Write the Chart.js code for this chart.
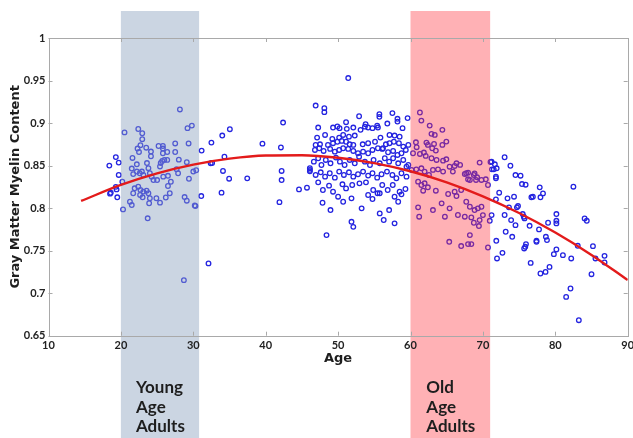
<!DOCTYPE html>
<html>
<head>
<meta charset="utf-8">
<script src="https://cdn.jsdelivr.net/npm/chart.js@4"></script>
<style>
  body { margin: 0; background: #fff; }
  #wrap { width: 633px; height: 438px; }
</style>
</head>
<body>
<div id="wrap"><canvas id="myelinChart" width="633" height="438"></canvas></div>
<script>
// subjects as [age, gray matter myelin content]
const youngGroup = [
  [28.15,0.916],[20.5,0.889],[22.4,0.893],[22.95,0.888],[22.95,0.881],[22.7,0.874],[22.3,0.870],[22.5,0.866],
  [24.15,0.8665],[24.15,0.861],[23.5,0.871],[25.2,0.873],[25.8,0.873],[25.8,0.870],[26.4,0.866],[25.8,0.8645],
  [27.5,0.876],[27.5,0.866],[29.2,0.894],[29.8,0.897],[29.35,0.876],[28.0,0.857],[29.1,0.854],[25.7,0.8555],
  [26.0,0.8567],[26.4,0.8567],[25.5,0.853],[25.4,0.849],[19.3,0.860],[19.7,0.8535],[18.4,0.850],[21.6,0.859],
  [21.5,0.8465],[21.7,0.840],[22.2,0.8515],[22.2,0.843],[22.6,0.841],[22.9,0.843],[23.1,0.839],[19.7,0.839],
  [20.2,0.831],[23.6,0.853],[23.8,0.847],[24.0,0.841],[24.25,0.837],[24.5,0.833],[25.0,0.833],[25.85,0.837],
  [26.5,0.838],[26.9,0.831],[26.5,0.826],[26.2,0.8125],[26.75,0.8175],[28.8,0.813],[29.1,0.8087],[30.2,0.803],
  [29.4,0.8345],[30.0,0.843],[30.4,0.8445],[27.9,0.841],[27.7,0.8457],[18.6,0.818],[19.3,0.825],[19.5,0.8127],
  [20.3,0.7985],[21.25,0.8075],[21.5,0.8036],[21.7,0.8175],[21.9,0.8233],[22.4,0.8252],[22.7,0.8214],[23.1,0.8194],
  [22.65,0.8155],[23.0,0.8127],[23.55,0.8205],[23.8,0.8175],[24.0,0.8116],[23.9,0.8057],[24.9,0.8116],[25.4,0.8064],
  [23.7,0.788],[28.7,0.7153],[18.5,0.817],[19.4,0.822]
];

const middleGroup = [
  [31.15,0.8676],[32.5,0.877],[32.4,0.8528],[32.6,0.853],[34.1,0.8437],[34.0,0.8853],[35.05,0.8928],[34.3,0.8605],
  [34.95,0.8346],[33.9,0.8182],[31.1,0.8142],[30.3,0.8025],[32.1,0.735],[37.45,0.835],[39.55,0.8758],[42.4,0.9006],
  [42.1,0.8713],[42.2,0.8437],[42.2,0.833],[41.9,0.807],[44.6,0.822],[45.7,0.824],[46.1,0.847],[46.1,0.8433]
];

const lateMidGroup = [
  [46.9,0.9206],[48.1,0.9175],[48.1,0.9128],[51.4,0.9529],[52.9,0.908],[55.7,0.9105],[55.7,0.9073],[57.5,0.9117],
  [58.2,0.905],[59.6,0.9058],[51.1,0.901],[53.8,0.8987],[55.4,0.897],[56.8,0.8994],[47.25,0.8947],[49.3,0.8947],
  [49.9,0.896],[50.2,0.894],[51.2,0.8932],[52.1,0.8947],[53.1,0.892],[53.7,0.8958],[54.15,0.8947],[54.75,0.894],
  [55.5,0.8947],[58.9,0.894],[58.2,0.9017],
  [47.1,0.8829],[48.2,0.886],[49.2,0.8813],[50.15,0.8829],[50.7,0.886],[51.5,0.884],[52.3,0.8853],[55.85,0.8829],
  [57.1,0.886],[57.8,0.8853],[58.5,0.884],
  [46.9,0.8743],[47.5,0.875],[48.6,0.8743],[49.3,0.8763],[49.9,0.878],[50.5,0.879],[51.1,0.878],[51.6,0.875],
  [52.1,0.8743],[53.4,0.875],[54.15,0.8763],[55.1,0.878],[56.2,0.8704],[56.6,0.875],[57.1,0.8763],[57.7,0.878],
  [58.4,0.8763],[59.0,0.8723],[59.7,0.8743],
  [46.8,0.8684],[47.4,0.8704],[48.0,0.8672],[48.9,0.8696],[49.55,0.8664],[50.15,0.8684],[50.7,0.8704],[51.4,0.8696],
  [52.1,0.8672],[52.75,0.8645],[53.45,0.8664],[54.15,0.8645],[54.75,0.8684],[55.5,0.8704],[56.1,0.8696],[56.9,0.8657],
  [57.6,0.8672],[58.2,0.8625],[58.75,0.8645],[59.35,0.8684],
  [46.65,0.8546],[47.25,0.8586],[47.7,0.8507],[48.3,0.8566],[48.95,0.8527],[49.7,0.8594],[50.25,0.8546],[50.9,0.8507],
  [51.6,0.8566],[52.3,0.8527],[52.9,0.8605],[53.7,0.8546],[54.4,0.8507],[54.9,0.8566],[55.75,0.8527],[56.45,0.8586],
  [57.05,0.8546],[57.6,0.8586],[58.3,0.8527],[59.0,0.8566],[59.7,0.8507],[59.45,0.8487],
  [46.1,0.8449],[46.9,0.8390],[47.6,0.8421],[48.2,0.8370],[48.85,0.8410],[49.55,0.8358],[50.15,0.8429],[50.8,0.8390],
  [51.5,0.8421],[52.1,0.8370],[52.75,0.8398],[53.45,0.8429],[54.15,0.8382],[54.75,0.8410],[55.4,0.8358],[56.0,0.8398],
  [56.75,0.8429],[57.5,0.8390],[58.05,0.8351],[58.75,0.8410],[59.45,0.8370],
  [47.25,0.8303],[47.9,0.8213],[48.75,0.8264],[49.3,0.8193],[50.6,0.8280],[51.1,0.8232],[51.95,0.8272],[52.95,0.8291],
  [53.85,0.8303],[54.85,0.8213],[55.45,0.8174],[56.1,0.8272],[56.85,0.8213],[57.55,0.8272],[58.5,0.8193],[59.3,0.8225],
  [47.85,0.8063],[48.95,0.7977],[50.0,0.8134],[50.7,0.8075],[51.85,0.8115],[53.25,0.7997],[54.15,0.8154],[54.75,0.8107],
  [55.75,0.8174],[57.05,0.7977],[57.8,0.8134],[58.3,0.8075],[58.75,0.8162],
  [51.85,0.7839],[52.1,0.7780],[55.75,0.7938],[56.3,0.7860],[57.8,0.7821],[48.4,0.7683]
];

const oldGroup = [
  [61.3,0.9124],[61.5,0.9029],[62.65,0.8970],[62.9,0.8873],[63.35,0.8861],[64.4,0.8920],[60.75,0.8774],[60.85,0.8716],
  [62.2,0.8770],[62.4,0.8743],[63.25,0.8755],[63.0,0.8704],[63.5,0.8676],[64.4,0.8743],[64.95,0.8782],
  [60.35,0.8645],[61.3,0.8637],[61.85,0.8653],[62.1,0.8614],[62.9,0.8586],[63.6,0.8566],[64.5,0.8558],[64.95,0.8574],
  [66.1,0.8496],[66.35,0.8527],[69.55,0.8535],
  [60.15,0.8449],[60.8,0.8456],[61.5,0.8468],[61.95,0.8429],[62.55,0.8390],[63.1,0.8449],[63.8,0.8456],[64.5,0.8429],
  [65.4,0.8487],[65.85,0.8429],[67.5,0.8401],[67.95,0.8417],[68.85,0.8409],[69.2,0.8362],[69.8,0.8331],[70.4,0.8339],
  [70.7,0.8272],[67.95,0.8339],
  [61.05,0.8311],[61.5,0.8272],[61.95,0.8292],[61.75,0.8205],[62.4,0.8245],[63.5,0.8205],[65.2,0.8166],[66.1,0.8193],
  [66.35,0.8142],[67.0,0.8213],[67.7,0.8075],[68.2,0.8016],[68.85,0.7977],[69.3,0.7997],[69.8,0.8016],[70.0,0.7918],
  [69.55,0.7859],[70.95,0.7851],[71.2,0.7918],
  [61.05,0.8009],[61.2,0.7899],[63.1,0.7977],[64.3,0.8056],[64.75,0.7899],[65.4,0.7997],[66.55,0.7919],[67.5,0.7899],
  [68.4,0.7891],[68.75,0.7828],[69.45,0.7789],[68.2,0.7683],[65.35,0.7604],[67.0,0.7554],[67.95,0.7577],[68.4,0.7577],
  [70.7,0.7537],[66.85,0.8508],[67.7,0.8410],[68.2,0.8331],[68.75,0.8390],[69.05,0.8331]
];

const elderlyGroup = [
  [71.05,0.8543],[71.9,0.8468],[73.0,0.8598],[73.8,0.8498],[74.5,0.8389],[75.2,0.8381],[75.4,0.8283],[75.9,0.8275],
  [77.85,0.8244],[78.3,0.8173],[77.95,0.8127],[76.7,0.8127],[76.9,0.8134],[82.5,0.8252],
  [71.8,0.8351],[72.25,0.8181],[71.8,0.8103],[73.4,0.8115],[74.3,0.8134],[74.7,0.8009],[74.85,0.8024],[73.6,0.8009],
  [73.0,0.7919],[73.9,0.7859],[74.5,0.7800],[75.5,0.7930],[75.65,0.7899],[75.75,0.7879],
  [71.85,0.7616],[73.15,0.7722],[74.05,0.7663],[75.95,0.7577],[75.85,0.7545],[75.7,0.7526],[77.4,0.7616],[77.4,0.7604],
  [78.7,0.7663],[78.85,0.7624],[79.0,0.7828],[80.15,0.7930],[80.15,0.7851],[80.15,0.7820],
  [71.95,0.7408],[72.7,0.7474],[77.95,0.7231],[78.65,0.7250],[79.2,0.7309],[79.8,0.7459],[80.15,0.7514],[81.05,0.7447],
  [82.2,0.7408],[83.1,0.7557],[84.05,0.7879],[84.35,0.7851],[85.2,0.7553],[85.55,0.7408],[86.8,0.7439],[86.8,0.7361],
  [85.0,0.7223],[81.5,0.6956],[82.1,0.7055],[83.25,0.6682],
  [71.2,0.8546],[71.65,0.8515],[71.5,0.8456],[71.25,0.8456],[71.8,0.8370],
  [77.75,0.7750],[76.45,0.7792],[76.6,0.7356]
];

// quadratic fit, read every 5 years
const fitAges = [14.5, 20, 25, 30, 35, 40, 45, 50, 55, 60, 65, 70, 75, 80, 85, 90];
const fitValues = [0.8084, 0.8273, 0.8409, 0.8512, 0.8582, 0.8619, 0.8622, 0.8592,
                   0.8529, 0.8433, 0.8303, 0.8139, 0.7943, 0.7713, 0.7450, 0.7154];

const ageRange = [10, 90];
const myelinRange = [0.65, 1];

// shaded age groups
const bandRanges = [[20, 30.8], [60, 71]];
const bandLabels = [['Young', 'Age', 'Adults'], ['Old', 'Age', 'Adults']];
const bandFills = ['rgba(140,162,190,0.45)', 'rgba(255,50,60,0.38)'];

const subjects = [...youngGroup, ...middleGroup, ...lateMidGroup, ...oldGroup, ...elderlyGroup]
  .map(([a, v]) => ({ x: a, y: v }));
const fitCurve = fitAges.map((a, i) => ({ x: a, y: fitValues[i] }));

// bands are painted over the scatter (so points inside turn tinted) but under the fit line
const bandPlugin = {
  id: 'ageBands',
  afterDatasetDraw(chart, args) {
    if (args.index !== 1) return;
    const { ctx, scales: { x } } = chart;
    ctx.save();
    bandRanges.forEach((r, i) => {
      const left = x.getPixelForValue(r[0]);
      const right = x.getPixelForValue(r[1]);
      ctx.fillStyle = bandFills[i];
      ctx.fillRect(left, 11, right - left, chart.height - 11);
      ctx.fillStyle = '#1e1e1e';
      ctx.font = 'bold 17px Lato';
      ctx.textBaseline = 'alphabetic';
      const tx = (left + right) / 2 - 24;
      bandLabels[i].forEach((line, j) => ctx.fillText(line, tx, 393 + j * 19.5));
    });
    ctx.restore();
  }
};

// box round the plot with inward tick marks on all four sides
const framePlugin = {
  id: 'frame',
  afterDatasetsDraw(chart) {
    const { ctx, chartArea: a, scales: { x, y } } = chart;
    ctx.save();
    ctx.strokeStyle = '#a9a9a9';
    ctx.lineWidth = 1;
    ctx.strokeRect(Math.round(a.left) + 0.5, Math.round(a.top) + 0.5,
                   Math.round(a.right - a.left), Math.round(a.bottom - a.top));
    ctx.beginPath();
    x.ticks.forEach(t => {
      const px = Math.round(x.getPixelForValue(t.value)) + 0.5;
      ctx.moveTo(px, a.bottom); ctx.lineTo(px, a.bottom - 4);
      ctx.moveTo(px, a.top); ctx.lineTo(px, a.top + 4);
    });
    y.ticks.forEach(t => {
      const py = Math.round(y.getPixelForValue(t.value)) + 0.5;
      ctx.moveTo(a.left, py); ctx.lineTo(a.left + 4, py);
      ctx.moveTo(a.right, py); ctx.lineTo(a.right - 4, py);
    });
    ctx.stroke();
    ctx.restore();
  }
};

const tickFont = { family: 'Lato', weight: 'bold', size: 11 };

new Chart(document.getElementById('myelinChart'), {
  type: 'scatter',
  data: {
    datasets: [{
      type: 'line',
      label: 'Fit',
      data: fitCurve,
      borderColor: '#e31b1b',
      borderWidth: 2.4,
      pointRadius: 0,
      cubicInterpolationMode: 'monotone',
      fill: false
    }, {
      label: 'Subjects',
      data: subjects,
      pointStyle: 'circle',
      pointRadius: 2.3,
      borderWidth: 1.3,
      borderColor: '#2424e0',
      backgroundColor: 'rgba(0,0,0,0)'
    }]
  },
  options: {
    responsive: false,
    animation: false,
    layout: { padding: { top: 38, right: 5, left: 0, bottom: 0 } },
    plugins: { legend: { display: false }, tooltip: { enabled: false } },
    scales: {
      x: {
        type: 'linear',
        min: ageRange[0],
        max: ageRange[1],
        grid: { display: false, drawTicks: false },
        border: { display: false },
        ticks: { stepSize: 10, color: '#222', padding: 3, z: 1, font: tickFont },
        title: {
          display: true, text: 'Age', color: '#1e1e1e',
          font: { family: 'DejaVu Sans', weight: 'bold', size: 13 },
          padding: { top: 0, bottom: 72 }
        },
        afterFit(scale) {
          scale.height = 102.3;
          // let the last tick label run past the edge of the canvas
          scale.paddingLeft = 0;
          scale.paddingRight = 0;
        }
      },
      y: {
        min: myelinRange[0],
        max: myelinRange[1],
        grid: { display: false, drawTicks: false },
        border: { display: false },
        ticks: {
          stepSize: 0.05, color: '#222', padding: 3, z: 1, font: tickFont,
          callback: v => String(Math.round(v * 100) / 100)
        },
        title: {
          display: true, text: 'Gray Matter Myelin Content', color: '#1e1e1e',
          font: { family: 'DejaVu Sans', weight: 'bold', size: 13 },
          padding: { top: 8, bottom: 0 }
        },
        afterFit(scale) { scale.width = 48.5; }
      }
    }
  },
  plugins: [bandPlugin, framePlugin]
});
</script>
</body>
</html>
